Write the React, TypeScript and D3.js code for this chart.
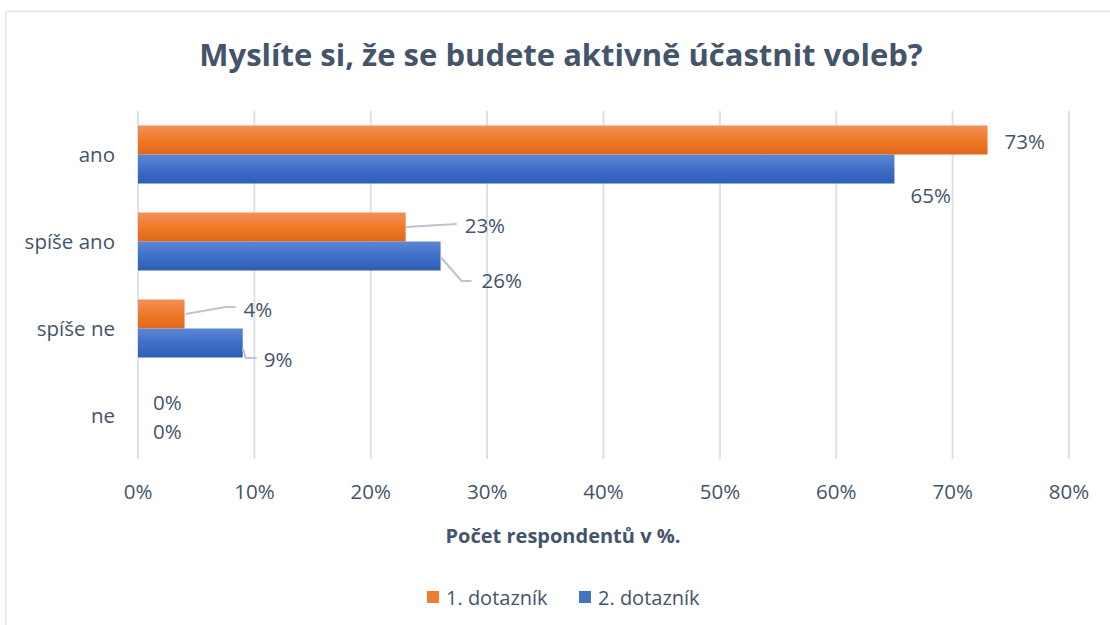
import React from 'react'
import * as d3 from 'd3'

const categories = ['ano', 'spíše ano', 'spíše ne', 'ne']
const seriesNames = ['1. dotazník', '2. dotazník']
const first = [73, 23, 4, 0]
const second = [65, 26, 9, 0]
const ticks = [0, 10, 20, 30, 40, 50, 60, 70, 80]

// manual label placement (Excel moved some labels): dx, dy from bar end / centre
const labelOffsets = [
  [[17, 2], [16, 27]],
  [[59, -1], [41, 25]],
  [[59, -4], [21, 17]],
  [[15, 2], [15, 2]],
]
// leader line points relative to bar end (x) and bar centre (y)
const leaders: (number[][] | null)[][] = [
  [null, null],
  [[[0, 0], [51, -3]], [[0, 1], [21, 25], [31, 25]]],
  [[[1, 0], [41, -7], [51, -7]], [[0, 5], [3, 15], [14, 15]]],
  [null, null],
]

const W = 1110
const H = 625
const font = '"Open Sans", sans-serif'
const textColor = '#44546A'

export default function App() {
  const x = d3.scaleLinear().domain([0, 80]).range([138, 1069])
  const y = d3.scaleBand().domain(categories).range([111, 459]).paddingInner(1 / 3).paddingOuter(1 / 6)
  const inner = d3.scaleBand().domain(seriesNames).range([0, y.bandwidth()])
  const fills = ['url(#gOrange)', 'url(#gBlue)']
  const legendFills = ['#ED7D31', '#4472C4']
  const values = [first, second]

  return (
    <svg width={W} height={H} style={{ position: 'absolute', left: 0, top: 0, background: '#fff' }}>
      <defs>
        <linearGradient id="gOrange" x1="0" y1="0" x2="0" y2="1">
          <stop offset="0" stopColor="#F29058" />
          <stop offset="0.5" stopColor="#F07A28" />
          <stop offset="1" stopColor="#E1661A" />
        </linearGradient>
        <linearGradient id="gBlue" x1="0" y1="0" x2="0" y2="1">
          <stop offset="0" stopColor="#5D87D2" />
          <stop offset="0.5" stopColor="#3F6FC8" />
          <stop offset="1" stopColor="#2E5DB4" />
        </linearGradient>
      </defs>
      <rect x={6} y={11.5} width={W + 10} height={H + 10} fill="none" stroke="#E3E6EC" strokeWidth={1.5} />

      <text x={561} y={66} textAnchor="middle" fontFamily={font} fontWeight={700} fontSize={31} fill={textColor}>
        Myslíte si, že se budete aktivně účastnit voleb?
      </text>

      {ticks.map(t => (
        <g key={t}>
          <line x1={x(t)} x2={x(t)} y1={111} y2={459} stroke="#DCE1E8" strokeWidth={2} />
          <text x={x(t)} y={499} textAnchor="middle" fontFamily={font} fontSize={20.5} fill={textColor}>{t}%</text>
        </g>
      ))}

      {categories.map(c => (
        <text key={c} x={115} y={(y(c) as number) + y.bandwidth() / 2 + 7} textAnchor="end" fontFamily={font} fontSize={20.5} fill={textColor}>{c}</text>
      ))}

      {categories.map((c, i) => seriesNames.map((s, j) => {
        const v = values[j][i]
        const y0 = (y(c) as number) + (inner(s) as number)
        const cy = y0 + inner.bandwidth() / 2
        const ex = x(v)
        const [dx, dy] = labelOffsets[i][j]
        const ld = leaders[i][j]
        return (
          <g key={c + s}>
            {v > 0 && <rect x={x(0)} y={y0} width={ex - x(0)} height={inner.bandwidth()} fill={fills[j]} />}
            {ld && (
              <polyline points={ld.map(p => `${ex + p[0]},${cy + p[1]}`).join(' ')} fill="none" stroke="#BCC4CF" strokeWidth={2} />
            )}
            <text x={ex + dx} y={cy + dy + 7} fontFamily={font} fontSize={20.5} fill={textColor}>{v}%</text>
          </g>
        )
      }))}

      <text x={563} y={543} textAnchor="middle" fontFamily={font} fontWeight={700} fontSize={20} fill={textColor}>
        Počet respondentů v %.
      </text>

      {seriesNames.map((s, j) => {
        const lx = [427, 579][j]
        return (
          <g key={s}>
            <rect x={lx} y={591} width={12} height={12} fill={legendFills[j]} />
            <text x={lx + 19} y={605} fontFamily={font} fontSize={20} fill={textColor}>{s}</text>
          </g>
        )
      })}
    </svg>
  )
}
